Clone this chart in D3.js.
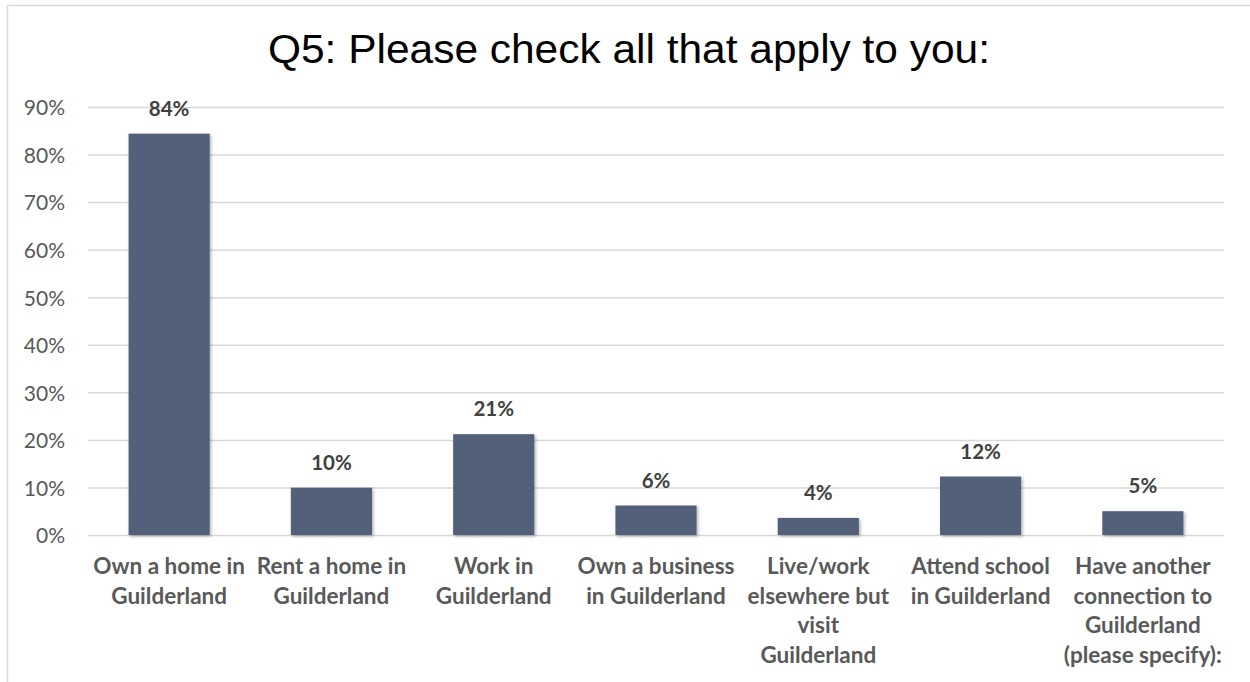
<!DOCTYPE html>
<html>
<head>
<meta charset="utf-8">
<script src="https://cdn.jsdelivr.net/npm/d3@7"></script>
<style>
  html, body { margin: 0; padding: 0; background: #fff; }
  svg { display: block; }
</style>
</head>
<body>
<svg id="chart" width="1250" height="682"></svg>
<script>
// Survey question Q5 — share of respondents selecting each option
const categories = [
  "Own a home in\nGuilderland",
  "Rent a home in\nGuilderland",
  "Work in\nGuilderland",
  "Own a business\nin Guilderland",
  "Live/work\nelsewhere but\nvisit\nGuilderland",
  "Attend school\nin Guilderland",
  "Have another\nconnection to\nGuilderland\n(please specify):"
];
const values = [84.4, 9.95, 21.2, 6.2, 3.6, 12.3, 5.0];
const yTicks = [0, 10, 20, 30, 40, 50, 60, 70, 80, 90];
const titleText = "Q5: Please check all that apply to you:";

const svg = d3.select("#chart");
const W = 1250, H = 682;
const margin = { left: 88, right: 26, top: 107, bottom: 147 };
const plotW = W - margin.left - margin.right;
const plotH = H - margin.top - margin.bottom;

const labelFont = "Lato, 'Open Sans', sans-serif";

// chart frame
svg.append("path")
  .attr("d", `M7.5,${H} L7.5,5.5 L${W},5.5`)
  .attr("fill", "none")
  .attr("stroke", "#d9d9d9")
  .attr("stroke-width", 1.5);

// drop shadow for bars
const defs = svg.append("defs");
const f = defs.append("filter").attr("id", "shadow")
  .attr("x", "-20%").attr("y", "-20%").attr("width", "140%").attr("height", "140%");
f.append("feDropShadow").attr("dx", 1.5).attr("dy", 1.5).attr("stdDeviation", 1.5)
  .attr("flood-color", "#000").attr("flood-opacity", 0.3);

const g = svg.append("g").attr("transform", `translate(${margin.left},${margin.top})`);

const x = d3.scaleBand().domain(categories).range([0, plotW]).paddingInner(0.5).paddingOuter(0.25);
const y = d3.scaleLinear().domain([0, 90]).range([plotH, 0]);

// gridlines + y labels
const yAxis = d3.axisLeft(y).tickValues(yTicks).tickSize(-plotW).tickPadding(23)
  .tickFormat(d => d + "%");
const ya = g.append("g").call(yAxis);
ya.select(".domain").remove();
ya.selectAll(".tick line").attr("stroke", "#d9d9d9").attr("stroke-width", 1.5);
ya.selectAll(".tick text")
  .attr("fill", "#595959")
  .attr("dy", "0.37em")
  .style("font-family", labelFont)
  .style("font-size", "21px");

// bars
g.selectAll("rect.bar").data(values).join("rect")
  .attr("class", "bar")
  .attr("x", (d, i) => x(categories[i]))
  .attr("width", x.bandwidth())
  .attr("y", d => y(d))
  .attr("height", d => plotH - y(d))
  .attr("fill", "#536079")
  .attr("filter", "url(#shadow)");

// value labels
g.selectAll("text.val").data(values).join("text")
  .attr("class", "val")
  .attr("x", (d, i) => x(categories[i]) + x.bandwidth() / 2)
  .attr("y", d => y(d) - 18)
  .attr("text-anchor", "middle")
  .attr("fill", "#404040")
  .style("font-family", labelFont)
  .style("font-weight", "bold")
  .style("font-size", "20.5px")
  .text(d => Math.round(d) + "%");

// category labels
const cat = g.selectAll("text.cat").data(categories).join("text")
  .attr("class", "cat")
  .attr("x", d => x(d) + x.bandwidth() / 2)
  .attr("y", plotH + 39)
  .attr("text-anchor", "middle")
  .attr("fill", "#595959")
  .style("font-family", labelFont)
  .style("font-weight", "bold")
  .style("font-size", "22.5px");
cat.selectAll("tspan").data(d => d.split("\n").map(t => ({ t, cx: x(d) + x.bandwidth() / 2 }))).join("tspan")
  .attr("x", d => d.cx)
  .attr("dy", (d, i) => i === 0 ? 0 : 29.5)
  .text(d => d.t);

// title
svg.append("text")
  .attr("x", 629)
  .attr("y", 63)
  .attr("text-anchor", "middle")
  .attr("fill", "#000")
  .attr("textLength", 722)
  .attr("lengthAdjust", "spacingAndGlyphs")
  .style("font-family", "'Liberation Sans', Arial, sans-serif")
  .style("font-size", "40px")
  .text(titleText);
</script>
</body>
</html>
